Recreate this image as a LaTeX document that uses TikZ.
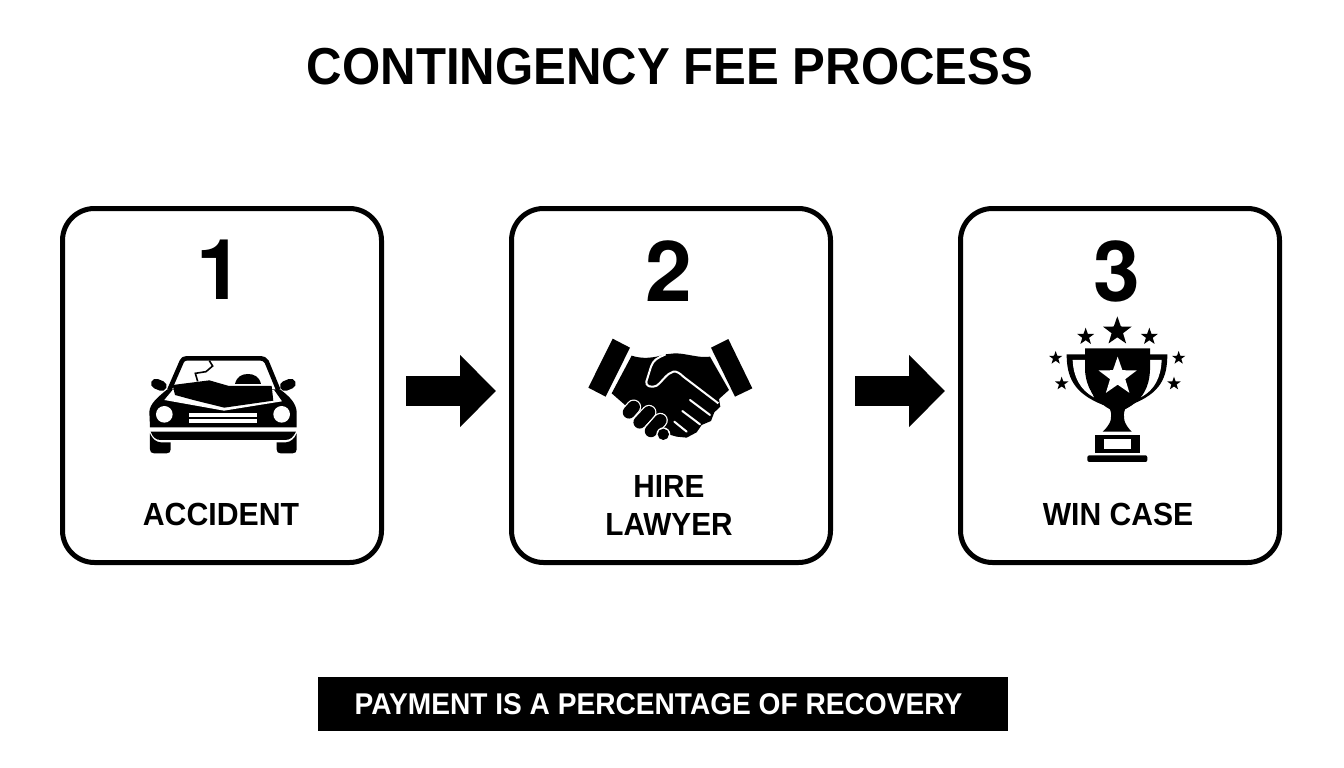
\documentclass[tikz,border=0pt]{standalone}
\usepackage{fontspec}
\setmainfont{Liberation Sans}
\newfontfamily\digitfont{TeX Gyre Heros}
\usetikzlibrary{arrows.meta,shapes.geometric}
\tikzset{
  stepbox/.style={draw=black,line width=5pt,rounded corners=32pt,minimum width=319pt,minimum height=354pt,inner sep=0pt},
  numlabel/.style={font=\digitfont\fontsize{84}{84}\selectfont\bfseries,inner sep=0pt,text=black},
  caplabel/.style={font=\fontsize{32}{38}\selectfont\bfseries,inner sep=0pt,align=center,text=black},
  flowarrow/.style={line width=30pt,draw=black,-{Triangle[length=36pt,width=70pt]}},
  bk/.style={fill=black,draw=none},
  wh/.style={fill=white,draw=none},
  starshape/.style={star,star points=5,star point ratio=2.5,fill=black,draw=none,inner sep=0pt},
}
\newcommand{\squeeze}[2]{\scalebox{#1}[1]{#2}}
\begin{document}
\begin{tikzpicture}[x=1pt,y=-1pt]
\useasboundingbox (0,0) rectangle (1344,768);
\fill[white] (0,0) rectangle (1344,768);
\node[font=\fontsize{52}{52}\selectfont\bfseries,inner sep=0pt] (title) at (670,67) {\squeeze{0.945}{CONTINGENCY FEE PROCESS}};
\node[stepbox] (box1) at (222,385.5) {};
\node[stepbox] (box2) at (671,385.5) {};
\node[stepbox] (box3) at (1120,385.5) {};
\node[numlabel] (n1) at (220,269.5) {1};
\node[numlabel] (n2) at (669,271) {2};
\node[numlabel] (n3) at (1117,271) {3};
\node[caplabel] (c1) at (221,514) {\squeeze{0.945}{ACCIDENT}};
\node[caplabel] (c2) at (669,505) {\squeeze{0.93}{HIRE}\\\squeeze{0.93}{LAWYER}};
\node[caplabel] (c3) at (1118,514) {\squeeze{0.94}{WIN CASE}};
\draw[flowarrow,shorten <=22pt,shorten >=13pt] ([yshift=-5.5pt]box1.east) -- ([yshift=-5.5pt]box2.west);
\draw[flowarrow,shorten <=22pt,shorten >=13pt] ([yshift=-5.5pt]box2.east) -- ([yshift=-5.5pt]box3.west);
\node[fill=black,text=white,minimum width=690pt,minimum height=54pt,inner sep=0pt,font=\fontsize{30}{30}\selectfont\bfseries] (banner) at (663,704) {\hspace*{-9pt}\squeeze{0.937}{PAYMENT IS A PERCENTAGE OF RECOVERY}};
% car
\begin{scope}[shift={(130,340)},x=0.3333pt,y=-0.3333pt]
\fill[bk] (315,132) .. controls (320,110) and (335,102) .. (354,102) .. controls (372,102) and (388,110) .. (393,132) -- cycle;
\draw[line width=1.6pt] (238,62) -- (248,78) -- (228,95) -- (196,100) -- (203,124);
\fill[bk] (60,262) -- (58,215) .. controls (60,190) and (85,170) .. (112,148) -- (450,148) .. controls (480,170) and (498,190) .. (500,215) -- (500,262) -- cycle;
\fill[wh] (128,150) -- (432,150) -- (456,184) -- (282,212) -- (103,180) -- cycle;
\draw[line width=4.6pt,line join=round] (118,150) -- (155,65) .. controls (158,58) and (162,55) .. (170,55) -- (392,55) .. controls (400,55) and (405,58) .. (410,65) -- (445,150);
\fill[bk] (128,135) -- (238,121) -- (297,138) -- (425,138) -- (430,182) -- (283,203) -- (190,180) -- (135,165) -- cycle;
\draw[line width=10pt,line cap=round] (78,131) -- (95,138);
\draw[line width=10pt,line cap=round] (482,131) -- (465,138);
\fill[wh] (103,223) circle (25);
\fill[wh] (455,223) circle (25);
\fill[wh] (178,218) rectangle (382,230);
\fill[wh] (178,238) rectangle (382,250);
\fill[bk] (62,275) -- (498,275) .. controls (490,292) and (480,300) .. (465,300) -- (92,300) .. controls (78,300) and (68,292) .. (62,275) -- cycle;
\fill[bk] (60,280) .. controls (66,296) and (78,306) .. (92,307) -- (122,307) -- (122,328) .. controls (122,336) and (118,340) .. (110,340) -- (72,340) .. controls (64,340) and (60,336) .. (60,328) -- cycle;
\fill[bk] (500,280) .. controls (494,296) and (482,306) .. (468,307) -- (440,307) -- (440,328) .. controls (440,336) and (444,340) .. (452,340) -- (488,340) .. controls (496,340) and (500,336) .. (500,328) -- cycle;
\end{scope}
% handshake
\begin{scope}[shift={(575,325)},x=0.3333pt,y=-0.3333pt]
\fill[bk] (113,41) -- (165,68) -- (92,215) -- (40,188) -- cycle;
\fill[bk] (460,42) -- (408,68) -- (480,215) -- (532,190) -- cycle;
\fill[bk] (170,92) .. controls (200,102) and (235,100) .. (270,88) -- (300,85) .. controls (335,85) and (370,100) .. (405,95) -- (462,195) -- (432,222) -- (436,245) -- (418,262) -- (408,288) -- (380,300) -- (365,322) -- (335,338) -- (305,335) -- (270,325) -- (225,310) -- (150,240) -- (110,205) -- cycle;
\draw[white,line width=2pt,line join=round] (272,88) .. controls (245,100) and (235,105) .. (228,125) -- (214,170) .. controls (212,182) and (225,190) .. (245,182) .. controls (262,170) and (275,145) .. (295,140) .. controls (305,138) and (315,145) .. (325,155) -- (430,235);
\draw[white,line width=2pt,line cap=round] (345,225) -- (405,270);
\draw[white,line width=2pt,line cap=round] (322,258) -- (375,298);
\draw[white,line width=2pt,line cap=round] (298,290) -- (335,320);
\draw[line width=15pt,line cap=round,white] (162,262) -- (176,246);
\draw[line width=12.5pt,line cap=round,black] (162,262) -- (176,246);
\draw[line width=15pt,line cap=round,white] (194,292) -- (222,262);
\draw[line width=12.5pt,line cap=round,black] (194,292) -- (222,262);
\draw[line width=15pt,line cap=round,white] (228,318) -- (256,286);
\draw[line width=12.5pt,line cap=round,black] (228,318) -- (256,286);
\fill[white] (265,328) circle (21);
\fill[bk] (265,328) circle (17);
\end{scope}
% trophy
\begin{scope}[shift={(1030,310)},x=0.3333pt,y=-0.3333pt]
\fill[bk] (110,133) -- (412,133) .. controls (412,200) and (395,250) .. (300,285) -- (220,285) .. controls (130,250) and (110,200) .. (110,133) -- cycle;
\fill[wh] (128,150) -- (165,150) .. controls (167,190) and (175,230) .. (192,262) .. controls (150,240) and (130,200) .. (128,150) -- cycle;
\fill[wh] (395,150) -- (360,150) .. controls (358,190) and (350,230) .. (332,262) .. controls (375,240) and (393,200) .. (395,150) -- cycle;
\fill[bk] (165,115) -- (360,115) -- (360,180) .. controls (358,230) and (340,270) .. (285,298) .. controls (278,320) and (280,340) .. (305,365) -- (218,365) .. controls (245,340) and (248,320) .. (240,298) .. controls (190,270) and (168,230) .. (165,180) -- cycle;
\node[starshape,fill=white,minimum size=40pt] (s0) at (263,200) {};
\node[starshape,minimum size=30pt] (s1) at (262,64) {};
\node[starshape,minimum size=18pt] (s2) at (167,80) {};
\node[starshape,minimum size=18pt] (s3) at (358,80) {};
\node[starshape,minimum size=14pt] (s4) at (77,144) {};
\node[starshape,minimum size=14pt] (s5) at (446,144) {};
\node[starshape,minimum size=14pt] (s6) at (95,221) {};
\node[starshape,minimum size=14pt] (s7) at (432,221) {};
\fill[bk] (195,375) rectangle (330,430);
\fill[wh] (222,388) rectangle (303,418);
\fill[bk,rounded corners=2pt] (172,436) rectangle (352,456);
\end{scope}
\end{tikzpicture}
\end{document}
